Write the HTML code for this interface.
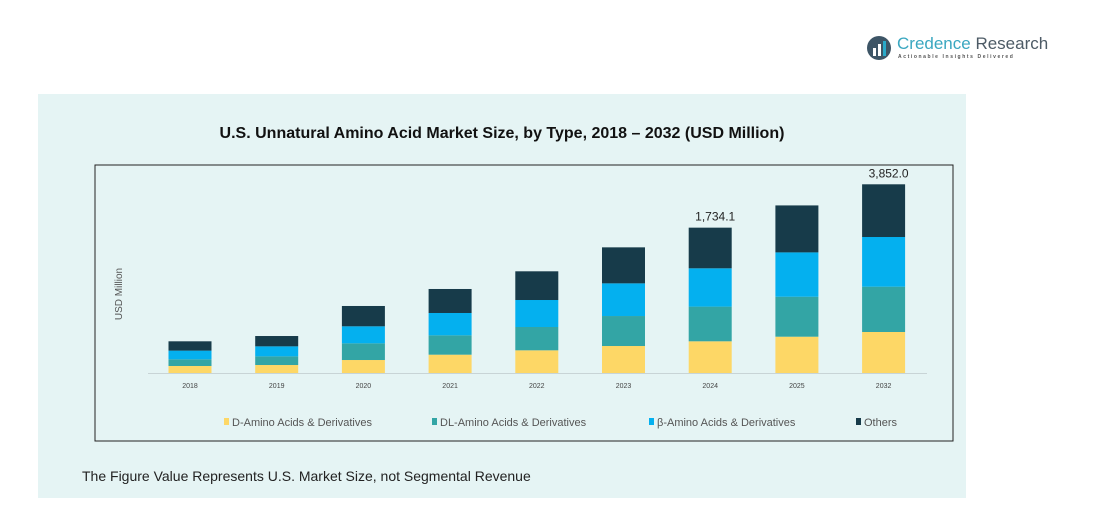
<!DOCTYPE html>
<html><head><meta charset="utf-8"><style>
body{margin:0;width:1108px;height:512px;background:#fff;font-family:"Liberation Sans",sans-serif;position:relative;overflow:hidden}
</style></head><body>
<div style="position:absolute;left:866px;top:34px;width:180px;height:30px">
  <svg width="28" height="28" style="position:absolute;left:0;top:0"><circle cx="13" cy="14" r="12" fill="#3d5566"/><rect x="7" y="14" width="3" height="8" fill="#fff"/><rect x="12" y="10" width="3" height="12" fill="#fff"/><rect x="17" y="7" width="3" height="15" fill="#29a9c9"/></svg>
  <div style="position:absolute;left:31px;top:0;font-size:17px;color:#3aa7c0;white-space:nowrap">Credence <span style="color:#4d5b66">Research</span></div>
  <div style="position:absolute;left:32px;top:20px;font-size:5px;letter-spacing:1.6px;color:#555;white-space:nowrap;font-weight:bold">Actionable Insights Delivered</div>
</div>
<div style="position:absolute;left:38px;top:94px;width:928px;height:404px;background:#e5f4f4"></div>
<div style="position:absolute;left:38px;width:928px;top:125px;text-align:center;font-weight:bold;font-size:16px;color:#111">U.S. Unnatural Amino Acid Market Size, by Type, 2018 – 2032 (USD Million)</div>
<div style="position:absolute;left:82px;top:468px;font-size:14px;color:#222">The Figure Value Represents U.S. Market Size, not Segmental Revenue</div>
<svg id="chart" width="1108" height="512" style="position:absolute;left:0;top:0"></svg>
<script>
const categories=["2018","2019","2020","2021","2022","2023","2024","2025","2032"];
const dAmino=[143,163,265,374,463,551,647,741,837];
const dlAmino=[137,177,341,395,476,612,708,816,925];
const betaAmino=[177,204,347,456,551,667,782,905,1014];
const others=[190,211,415,490,586,735,830,959,1076];
const topLabels=["","","","","","","1,734.1","","3,852.0"];
const seriesNames=["D-Amino Acids & Derivatives","DL-Amino Acids & Derivatives","β-Amino Acids & Derivatives","Others"];
const colors=["#fdd766","#33a5a5","#04b0ef","#173b4a"];
const NS="http://www.w3.org/2000/svg";
const svg=document.getElementById('chart');
const base=373, pxPer=188.7/3852;
const y=v=>base-v*pxPer;
const xc=i=>190+i*86.7;
const bw=43;
function mk(t,a){const e=document.createElementNS(NS,t);for(const k in a)e.setAttribute(k,a[k]);svg.appendChild(e);return e;}
let box=mk('rect',{x:95,y:165,width:858,height:276,fill:'none',stroke:'#222','stroke-width':1});


let ax=mk('line',{x1:148,x2:927,y1:base+0.5,y2:base+0.5,stroke:'#c8d4d6','stroke-width':1});


let yt=mk('text',{x:122,y:294,'font-size':10,fill:'#555',transform:'rotate(-90 122 294)','text-anchor':'middle'});
yt.textContent='USD Million';


const series=[dAmino,dlAmino,betaAmino,others];
categories.forEach((c,i)=>{
  let acc=0;
  series.forEach((s,k)=>{
    const r=mk('rect',{x:xc(i)-bw/2,y:y(acc+s[i]),width:bw,height:s[i]*pxPer,fill:colors[k]});
    
    
    acc+=s[i];
  });
  const t=mk('text',{x:xc(i),y:388,'font-size':7,fill:'#444','text-anchor':'middle'});
  t.textContent=c;
  
  
  if(topLabels[i]){
    const l=mk('text',{x:xc(i)+5,y:y(acc)-7,'font-size':12,fill:'#222','text-anchor':'middle'});
    l.textContent=topLabels[i];
    
    
  }
});
const lx=[224,432,649,856];
seriesNames.forEach((n,k)=>{
  const r=mk('rect',{x:lx[k],y:418,width:5,height:7,fill:colors[k]});
  
  
  const t=mk('text',{x:lx[k]+8,y:426,'font-size':11,fill:'#555'});
  t.textContent=n;
  
  
});
</script>
</body></html>
